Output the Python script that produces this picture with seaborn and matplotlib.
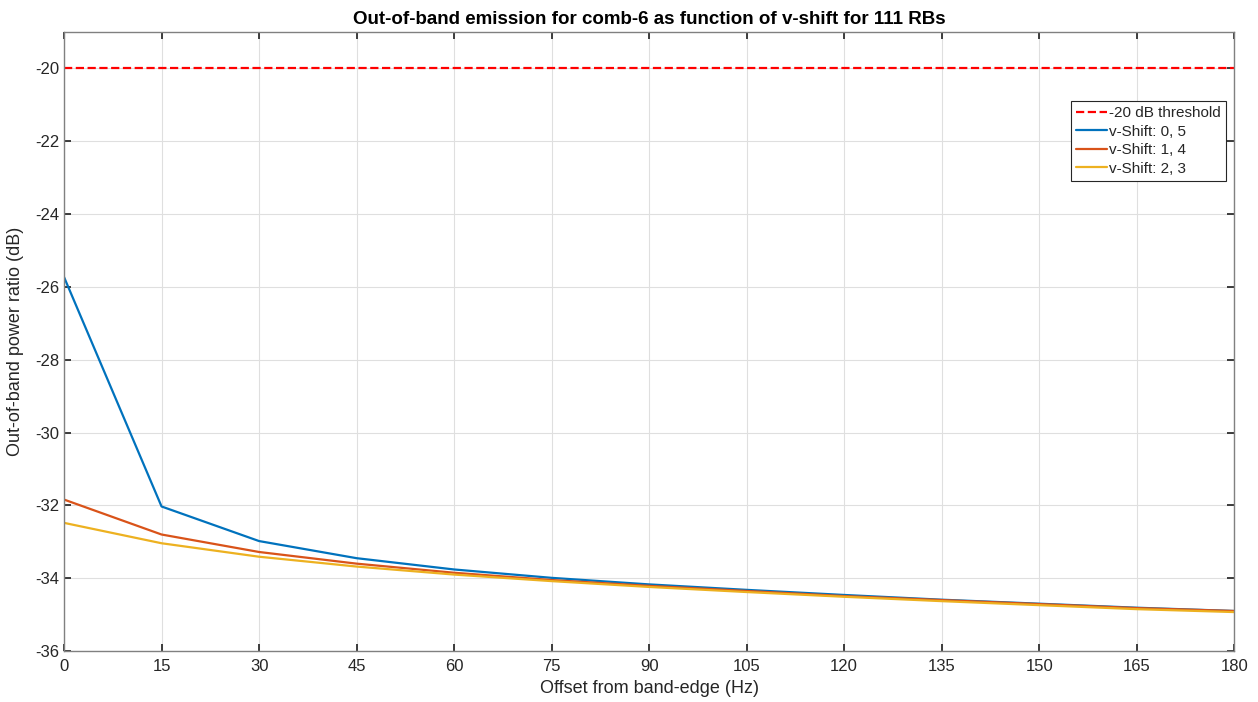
import numpy as np
import pandas as pd
import seaborn as sns
import matplotlib.pyplot as plt

sns.set_theme(style="whitegrid")
plt.rcParams['font.family'] = ['Liberation Sans', 'DejaVu Sans']
plt.rcParams['axes.unicode_minus'] = False

# Data
offsets = [0, 15, 30, 45, 60, 75, 90, 105, 120, 135, 150, 165, 180]
vshift_05 = [-25.73, -32.03, -32.98, -33.45, -33.76, -33.99, -34.17, -34.32, -34.46, -34.59, -34.70, -34.81, -34.90]
vshift_14 = [-31.84, -32.80, -33.28, -33.60, -33.85, -34.05, -34.21, -34.35, -34.49, -34.60, -34.71, -34.82, -34.90]
vshift_23 = [-32.48, -33.04, -33.41, -33.68, -33.90, -34.08, -34.24, -34.38, -34.51, -34.63, -34.74, -34.85, -34.93]
threshold = -20
series_names = ['v-Shift: 0, 5', 'v-Shift: 1, 4', 'v-Shift: 2, 3']
colors = ['#0072BD', '#D95319', '#EDB120']

df = pd.DataFrame({
    'offset': offsets * 3,
    'ratio': vshift_05 + vshift_14 + vshift_23,
    'series': np.repeat(series_names, len(offsets)),
})

fig = plt.figure(figsize=(12.58, 7.02), dpi=100)
ax = fig.add_axes([0.0509, 0.0726, 0.9302, 0.8818])
ax.set_facecolor('white')

ax.axhline(threshold, color='#FF0000', linestyle='--', linewidth=1.6, label='-20 dB threshold')
sns.lineplot(data=df, x='offset', y='ratio', hue='series', palette=colors,
             linewidth=1.6, ax=ax, legend=True)

ax.set_xlim(0, 180)
ax.set_ylim(-36, -19)
ax.set_xticks(range(0, 181, 15))
ax.set_yticks(range(-36, -19, 2))
ax.grid(True, color='#DFDFDF', linewidth=0.8)
for s in ax.spines.values():
    s.set_color('#808080')
    s.set_linewidth(1.0)
ax.tick_params(direction='in', length=5, colors='#262626', labelsize=12,
               top=True, right=True, bottom=True, left=True)
ax.tick_params(axis='x', pad=6)

ax.set_title('Out-of-band emission for comb-6 as function of v-shift for 111 RBs',
             fontsize=13.5, fontweight='bold', color='black', pad=6)
ax.set_xlabel('Offset from band-edge (Hz)', fontsize=13, color='#262626', labelpad=4)
ax.set_ylabel('Out-of-band power ratio (dB)', fontsize=13, color='#262626', labelpad=8)

leg = ax.legend(loc='upper right', bbox_to_anchor=(0.993, 0.889), fontsize=11,
                frameon=True, fancybox=False, framealpha=1, edgecolor='#262626',
                handlelength=2.0, handletextpad=0.15, borderpad=0.35, labelspacing=0.3,
                borderaxespad=0)
leg.get_frame().set_linewidth(0.8)

fig.savefig('out.png', dpi=100, facecolor='white')
